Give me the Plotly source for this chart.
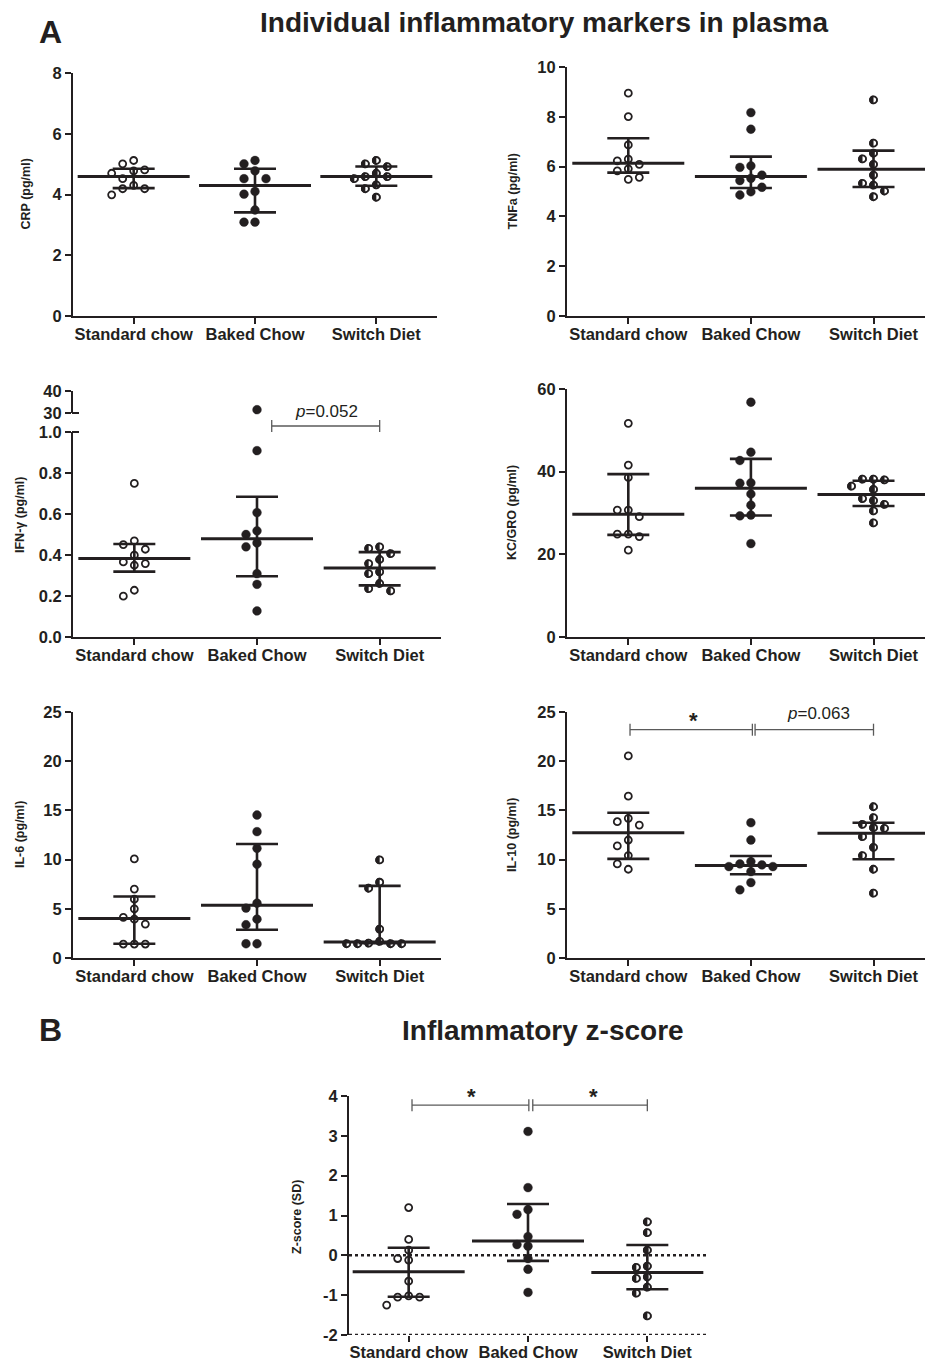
import math
import plotly.graph_objects as go

W, H = 925, 1360
def fx(px): return px / W
def fy(px): return 1 - px / H

CATS = ["Standard chow", "Baked Chow", "Switch Diet"]

# ---------------- data ----------------
CRP_STD = [4.81, 4.70, 5.01, 5.12, 4.78, 4.52, 4.19, 4.19, 4.30, 3.99]
CRP_BAKED = [5.01, 5.12, 4.78, 4.52, 4.52, 4.01, 4.10, 3.49, 3.09, 3.09]
CRP_SWITCH = [5.12, 5.01, 4.92, 4.59, 4.52, 4.70, 4.59, 4.32, 4.19, 3.91]
CRP_MED = [4.59, 4.30, 4.59]
CRP_Q1 = [4.21, 3.41, 4.29]
CRP_Q3 = [4.85, 4.85, 4.92]

TNF_STD = [8.95, 8.01, 6.87, 6.23, 6.30, 6.09, 5.83, 5.91, 5.49, 5.57]
TNF_BAKED = [8.17, 7.50, 5.97, 6.03, 5.53, 5.66, 5.44, 5.17, 4.86, 4.99]
TNF_SWITCH = [8.68, 6.94, 6.54, 6.31, 6.09, 5.66, 5.26, 5.33, 5.02, 4.79]
TNF_MED = [6.13, 5.60, 5.89]
TNF_Q1 = [5.76, 5.14, 5.18]
TNF_Q3 = [7.14, 6.40, 6.64]

IFN_STD = [0.749, 0.469, 0.451, 0.428, 0.399, 0.358, 0.350, 0.366, 0.228, 0.199]
IFN_BAKED = [31.5, 0.909, 0.607, 0.518, 0.500, 0.459, 0.440, 0.309, 0.257, 0.127]
IFN_SWITCH = [0.432, 0.440, 0.407, 0.378, 0.358, 0.318, 0.309, 0.261, 0.225, 0.236]
IFN_MED = [0.383, 0.479, 0.337]
IFN_Q1 = [0.319, 0.296, 0.252]
IFN_Q3 = [0.454, 0.684, 0.414]

KC_STD = [51.7, 41.6, 38.6, 30.7, 30.7, 29.1, 24.9, 24.3, 24.9, 21.0]
KC_BAKED = [56.8, 44.7, 42.7, 37.3, 37.2, 34.6, 31.9, 29.5, 29.3, 22.6]
KC_SWITCH = [38.2, 38.0, 38.2, 36.5, 35.7, 33.5, 33.0, 32.1, 30.5, 27.6]
KC_MED = [29.7, 36.0, 34.5]
KC_Q1 = [24.7, 29.4, 31.7]
KC_Q3 = [39.4, 43.1, 37.8]

IL6_STD = [10.07, 7.0, 5.98, 5.0, 3.95, 4.12, 3.45, 1.42, 1.42, 1.42]
IL6_BAKED = [14.53, 12.84, 11.15, 9.53, 5.57, 5.07, 3.95, 3.38, 1.45, 1.45]
IL6_SWITCH = [9.97, 7.70, 7.09, 2.94, 1.52, 1.45, 1.45, 1.45, 1.45, 1.69]
IL6_MED = [4.02, 5.37, 1.62]
IL6_Q1 = [1.45, 2.87, 1.50]
IL6_Q3 = [6.25, 11.59, 7.33]

IL10_STD = [20.54, 16.45, 13.85, 14.19, 13.51, 11.99, 11.39, 10.41, 9.56, 9.02]
IL10_BAKED = [13.75, 11.99, 9.80, 9.46, 9.29, 9.29, 9.56, 8.78, 7.67, 6.93]
IL10_SWITCH = [15.37, 14.26, 13.18, 13.58, 13.24, 12.33, 11.25, 10.41, 9.02, 6.59]
IL10_MED = [12.74, 9.39, 12.67]
IL10_Q1 = [10.07, 8.51, 10.03]
IL10_Q3 = [14.76, 10.37, 13.75]

Z_STD = [1.20, 0.40, 0.13, -0.12, -0.08, -0.65, -1.05, -1.05, -1.02, -1.25]
Z_BAKED = [3.11, 1.70, 1.15, 1.03, 0.47, 0.27, 0.23, -0.08, -0.35, -0.93]
Z_SWITCH = [0.84, 0.57, 0.13, -0.30, -0.27, -0.58, -0.54, -0.80, -0.95, -1.52]
Z_MED = [-0.41, 0.36, -0.43]
Z_Q1 = [-1.04, -0.14, -0.85]
Z_Q3 = [0.19, 1.29, 0.26]

# ---------------- styling ----------------
INK = "#231f20"
GREY = "#5a5a5a"
FONT = "Liberation Sans, Arial, sans-serif"
TICKFONT = dict(family=FONT, size=16.5, color=INK, weight="bold")

PANELS = [
    dict(n=1, label="CRP (pg/ml)", groups=[CRP_STD, CRP_BAKED, CRP_SWITCH], med=CRP_MED, q1=CRP_Q1, q3=CRP_Q3,
         xpx=(73, 437), xr=(-0.5, 2.5), ypx=(316, 73), yr=(0, 8), tv=[0, 2, 4, 6, 8], lx=25),
    dict(n=2, label="TNFa (pg/ml)", groups=[TNF_STD, TNF_BAKED, TNF_SWITCH], med=TNF_MED, q1=TNF_Q1, q3=TNF_Q3,
         xpx=(567, 925), xr=(-0.5, 2.42), ypx=(316, 67), yr=(0, 10), tv=[0, 2, 4, 6, 8, 10], lx=512),
    dict(n=3, label="IFN-γ (pg/ml)", groups=[IFN_STD, IFN_BAKED, IFN_SWITCH], med=IFN_MED, q1=IFN_Q1, q3=IFN_Q3,
         xpx=(73, 441), xr=(-0.5, 2.5), ypx=(637, 432), yr=(0, 1.0), tv=[0, 0.2, 0.4, 0.6, 0.8, 1.0],
         tt=["0.0", "0.2", "0.4", "0.6", "0.8", "1.0"], lx=20, ly=515),
    dict(n=4, label="KC/GRO (pg/ml)", groups=[KC_STD, KC_BAKED, KC_SWITCH], med=KC_MED, q1=KC_Q1, q3=KC_Q3,
         xpx=(567, 925), xr=(-0.5, 2.42), ypx=(637, 389), yr=(0, 60), tv=[0, 20, 40, 60], lx=512),
    dict(n=5, label="IL-6 (pg/ml)", groups=[IL6_STD, IL6_BAKED, IL6_SWITCH], med=IL6_MED, q1=IL6_Q1, q3=IL6_Q3,
         xpx=(73, 441), xr=(-0.5, 2.5), ypx=(958, 712), yr=(0, 25), tv=[0, 5, 10, 15, 20, 25], lx=20),
    dict(n=6, label="IL-10 (pg/ml)", groups=[IL10_STD, IL10_BAKED, IL10_SWITCH], med=IL10_MED, q1=IL10_Q1, q3=IL10_Q3,
         xpx=(567, 925), xr=(-0.5, 2.42), ypx=(958, 712), yr=(0, 25), tv=[0, 5, 10, 15, 20, 25], lx=512),
    dict(n=7, label="Z-score (SD)", groups=[Z_STD, Z_BAKED, Z_SWITCH], med=Z_MED, q1=Z_Q1, q3=Z_Q3,
         xpx=(349, 707), xr=(-0.5, 2.5), ypx=(1335, 1096), yr=(-2, 4), tv=[-2, -1, 0, 1, 2, 3, 4],
         tt=["-2", "-1", "0", "1", "2", "3", "4"], lx=297, ly=1217, dotted=True),
]

# IFN broken (upper) axis
IFN_UP_PX = (413, 391)
IFN_UP_R = (30, 40)

DOT = 7.0       # marker diameter (without outline)
EDGE = 1.8      # outline width
OPEN = dict(symbol="circle", size=DOT, color="white", line=dict(color=INK, width=EDGE))
FILLED = dict(symbol="circle", size=DOT + 1.8, color=INK, line=dict(color=INK, width=0.4))
HALF_BASE = dict(symbol="circle", size=DOT, color=INK, line=dict(color=INK, width=EDGE))
HALF_MASK = dict(symbol="line-ns", size=DOT + 0.4, color="white", line=dict(color="white", width=DOT / 2 + 0.3))
HALF_RING = dict(symbol="circle-open", size=DOT, color=INK, line=dict(color=INK, width=EDGE))

STEP_PX = 11.0
DIAM = 9.5


def swarm(values, ppu_y):
    order = sorted(range(len(values)), key=lambda i: -values[i])
    placed, offs = [], [0] * len(values)
    cands = [0, -1, 1, -2, 2, -3, 3, -4, 4, -5, 5]
    for i in order:
        y = values[i] * ppu_y
        choice = cands[-1]
        for c in cands:
            if all(math.hypot((c - pc) * STEP_PX, y - py) >= DIAM for py, pc in placed):
                choice = c
                break
        placed.append((y, choice))
        offs[i] = choice
    return [o * STEP_PX for o in offs]


fig = go.Figure()
layout = dict(width=W, height=H, paper_bgcolor="white", plot_bgcolor="white",
              margin=dict(l=0, r=0, t=0, b=0, pad=0, autoexpand=False), showlegend=False)
annotations, shapes = [], []


def add_points(xs_data, ys_data, group, xaxis, yaxis, ppu_x):
    def sc(xv, marker):
        fig.add_trace(go.Scatter(x=xv, y=ys_data, mode="markers", marker=marker, xaxis=xaxis, yaxis=yaxis,
                                 cliponaxis=False, hoverinfo="skip"))
    if group == 0:
        sc(xs_data, OPEN)
    elif group == 1:
        sc(xs_data, FILLED)
    else:
        sc(xs_data, HALF_BASE)
        shift = (DOT / 4 + 0.15) / ppu_x
        sc([v + shift for v in xs_data], HALF_MASK)
        sc(xs_data, HALF_RING)


def axis_common():
    return dict(showgrid=False, zeroline=False, fixedrange=True, ticks="outside", ticklen=6, tickwidth=2,
                tickcolor=INK, linecolor=INK, linewidth=2, tickfont=TICKFONT, automargin=False)


for p in PANELS:
    n = p["n"]
    xs, ys = f"x{n}", f"y{n}"
    ppu_x = (p["xpx"][1] - p["xpx"][0]) / (p["xr"][1] - p["xr"][0])
    ppu_y = (p["ypx"][0] - p["ypx"][1]) / (p["yr"][1] - p["yr"][0])
    xa = axis_common()
    xa.update(domain=[fx(p["xpx"][0]), fx(p["xpx"][1])], range=list(p["xr"]), anchor=ys,
              tickmode="array", tickvals=[0, 1, 2], ticktext=CATS, showline=not p.get("dotted", False),
              ticklabelstandoff=-4)
    ya = axis_common()
    ya.update(domain=[fy(p["ypx"][0]), fy(p["ypx"][1])], range=list(p["yr"]), anchor=xs,
              tickmode="array", tickvals=p["tv"], ticktext=p.get("tt", [str(v) for v in p["tv"]]), showline=True)
    layout["xaxis" if n == 1 else f"xaxis{n}"] = xa
    layout["yaxis" if n == 1 else f"yaxis{n}"] = ya

    for g, vals in enumerate(p["groups"]):
        if n == 3:
            low = [v for v in vals if v <= p["yr"][1]]
            high = [v for v in vals if v > p["yr"][1]]
        else:
            low, high = vals, []
        offs = swarm(low, ppu_y)
        add_points([g + o / ppu_x for o in offs], low, g, xs, ys, ppu_x)
        if high:
            add_points([g] * len(high), high, g, "x8", "y8", ppu_x)
    # median with interquartile range
    fig.add_trace(go.Scatter(
        x=[0, 1, 2], y=p["med"], mode="markers", xaxis=xs, yaxis=ys, cliponaxis=False, hoverinfo="skip",
        marker=dict(symbol="line-ew", size=80, color=INK, line=dict(color=INK, width=3)),
        error_y=dict(type="data", symmetric=False,
                     array=[q3 - m for q3, m in zip(p["q3"], p["med"])],
                     arrayminus=[m - q1 for q1, m in zip(p["q1"], p["med"])],
                     width=21, thickness=2.6, color=INK)))

    ly = p.get("ly", (p["ypx"][0] + p["ypx"][1]) / 2)
    annotations.append(dict(text=p["label"], x=fx(p["lx"]), y=fy(ly), xref="paper", yref="paper",
                            textangle=-90, showarrow=False, xanchor="center", yanchor="middle",
                            font=dict(family=FONT, size=12.5, color=INK, weight="bold")))
    if p.get("dotted"):
        for yv in (p["yr"][0], 0):
            shapes.append(dict(type="line", xref=xs, yref=ys, x0=p["xr"][0], x1=p["xr"][1], y0=yv, y1=yv,
                               line=dict(color=INK, width=2.5, dash="dot")))

# upper part of the broken IFN-γ axis
xa8 = dict(domain=[fx(73), fx(441)], range=[-0.5, 2.5], anchor="y8", visible=False, fixedrange=True)
ya8 = axis_common()
ya8.update(domain=[fy(IFN_UP_PX[0]), fy(IFN_UP_PX[1])], range=list(IFN_UP_R), anchor="x8",
           tickmode="array", tickvals=[30, 40], ticktext=["30", "40"], showline=True)
layout["xaxis8"] = xa8
layout["yaxis8"] = ya8
for ypx in (413, 432):
    shapes.append(dict(type="line", xref="paper", yref="paper", x0=fx(72), x1=fx(79), y0=fy(ypx), y1=fy(ypx),
                       line=dict(color=INK, width=2)))


def bracket(xref, yref, x0, x1, yv, half):
    for s in (dict(x0=x0, x1=x1, y0=yv, y1=yv), dict(x0=x0, x1=x0, y0=yv - half, y1=yv + half),
              dict(x0=x1, x1=x1, y0=yv - half, y1=yv + half)):
        s.update(type="line", xref=xref, yref=yref, line=dict(color=GREY, width=1.3))
        shapes.append(s)


# IFN-γ bracket (sits in the axis break)
bracket("x3", "paper", 1.12, 2.0, fy(426), 6 / H)
# IL-10 brackets
il10_ppu = (958 - 712) / 25
bracket("x6", "y6", 0.014, 1.012, 23.2, 6 / il10_ppu)
bracket("x6", "y6", 1.034, 2.0, 23.2, 6 / il10_ppu)
# z-score brackets
z_ppu = (1335 - 1096) / 6
bracket("x7", "y7", 0.028, 1.007, 3.77, 6 / z_ppu)
bracket("x7", "y7", 1.04, 2.0, 3.77, 6 / z_ppu)

PFONT = dict(family=FONT, size=17, color=INK)
STARFONT = dict(family=FONT, size=22, color=INK, weight="bold")
for txt, x, y, f in [("<i>p</i>=0.052", 326, 411, PFONT), ("*", 693, 720, STARFONT),
                     ("<i>p</i>=0.063", 818, 713, PFONT),
                     ("*", 471, 1096, STARFONT), ("*", 593, 1096, STARFONT)]:
    annotations.append(dict(text=txt, x=fx(x), y=fy(y), xref="paper", yref="paper", showarrow=False,
                            xanchor="center", yanchor="middle", font=f))

for txt, x, y, size in [("A", 50, 32, 32), ("B", 50, 1030, 32),
                        ("Individual inflammatory markers in plasma", 544, 22, 28),
                        ("Inflammatory z-score", 543, 1030, 28)]:
    annotations.append(dict(text=txt, x=fx(x), y=fy(y), xref="paper", yref="paper", showarrow=False,
                            xanchor="center", yanchor="middle",
                            font=dict(family=FONT, size=size, color=INK, weight="bold")))

layout["annotations"] = annotations
layout["shapes"] = shapes
fig.update_layout(**layout)
fig.write_html("out.html", config={"displayModeBar": False},
               post_script="document.body.style.margin='0';document.body.style.overflow='hidden';")
